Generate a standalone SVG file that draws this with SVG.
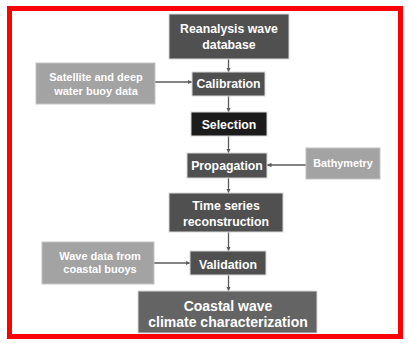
<svg xmlns="http://www.w3.org/2000/svg" width="408" height="345" viewBox="0 0 408 345">
  <defs>
    <marker id="arrow" viewBox="0 0 10 10" refX="10" refY="5" markerWidth="4.5" markerHeight="4.5" markerUnits="userSpaceOnUse" orient="auto">
      <path d="M0,0 L10,5 L0,10 z" fill="#5a5a5a"/>
    </marker>
  </defs>
  <style>
    .dark { fill: #505050; stroke: #d8d8d8; stroke-width: 1; }
    .black { fill: #1c1c1c; stroke: #d8d8d8; stroke-width: 1; }
    .final { fill: #646464; stroke: #d8d8d8; stroke-width: 1; }
    .light { fill: #a3a3a3; stroke: #c4c4c4; stroke-width: 1; }
    text { font-family: "Liberation Sans", Arial, sans-serif; font-weight: bold; fill: #ffffff; text-anchor: middle; }
    .main { font-size: 12.3px; }
    .side { font-size: 11px; }
    .big { font-size: 14px; }
    .link { stroke: #5a5a5a; stroke-width: 1.3; fill: none; marker-end: url(#arrow); }
  </style>

  <rect x="0" y="0" width="408" height="345" fill="#ffffff"/>
  <!-- outer frame -->
  <rect x="9.5" y="8.5" width="391" height="328" fill="none" stroke="#ff0000" stroke-width="5"/>

  <g id="connectors">
    <line class="link" x1="228.5" y1="59" x2="228.5" y2="72"/>
    <line class="link" x1="228.5" y1="96" x2="228.5" y2="112"/>
    <line class="link" x1="228.5" y1="136" x2="228.5" y2="153"/>
    <line class="link" x1="228.5" y1="178" x2="228.5" y2="193"/>
    <line class="link" x1="228.5" y1="232" x2="228.5" y2="251"/>
    <line class="link" x1="228.5" y1="275" x2="228.5" y2="291"/>
    <line class="link" x1="155" y1="82" x2="192" y2="82"/>
    <line class="link" x1="306" y1="165" x2="267" y2="165"/>
    <line class="link" x1="154" y1="263" x2="190" y2="263"/>
  </g>

  <g id="reanalysis">
    <rect class="dark" x="169" y="14" width="120" height="45"/>
    <text class="main" x="229" y="33">Reanalysis wave</text>
    <text class="main" x="229" y="49">database</text>
  </g>

  <g id="satellite">
    <rect class="light" x="36" y="63" width="119" height="41"/>
    <text class="side" x="96" y="81">Satellite and deep</text>
    <text class="side" x="96" y="95">water buoy data</text>
  </g>

  <g id="calibration">
    <rect class="dark" x="192" y="72" width="73" height="24"/>
    <text class="main" x="228.5" y="88">Calibration</text>
  </g>

  <g id="selection">
    <rect class="black" x="191" y="112" width="76" height="24"/>
    <text class="main" x="229" y="129">Selection</text>
  </g>

  <g id="propagation">
    <rect class="dark" x="187" y="153" width="80" height="25"/>
    <text class="main" x="227" y="170">Propagation</text>
  </g>

  <g id="bathymetry">
    <rect class="light" x="306" y="148" width="74" height="31"/>
    <text class="side" x="343" y="167" style="font-size:10.8px">Bathymetry</text>
  </g>

  <g id="time-series">
    <rect class="dark" x="169" y="193" width="114" height="39"/>
    <text class="main" x="226" y="210">Time series</text>
    <text class="main" x="226" y="226">reconstruction</text>
  </g>

  <g id="coastal-buoys">
    <rect class="light" x="42" y="242" width="112" height="42"/>
    <text class="side" x="100" y="260">Wave data from</text>
    <text class="side" x="100" y="273">coastal buoys</text>
  </g>

  <g id="validation">
    <rect class="dark" x="190" y="251" width="76" height="24"/>
    <text class="main" x="228" y="269">Validation</text>
  </g>

  <g id="characterization">
    <rect class="final" x="138" y="291" width="179" height="42"/>
    <text class="big" x="228" y="311">Coastal wave</text>
    <text class="big" x="228" y="327">climate characterization</text>
  </g>
</svg>
